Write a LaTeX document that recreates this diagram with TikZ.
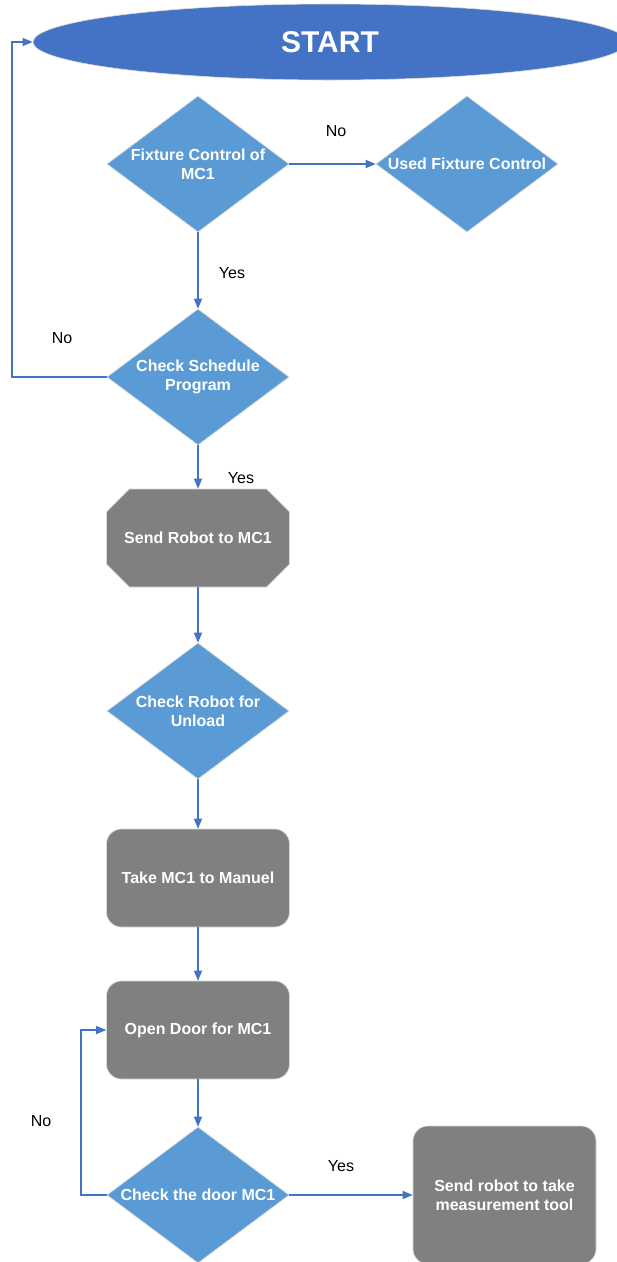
\documentclass[tikz,border=0pt]{standalone}
\usepackage{fontspec}
\setmainfont{Liberation Sans}
\usetikzlibrary{shapes.geometric,shapes.misc,arrows.meta}
\definecolor{startblue}{HTML}{4472C4}
\definecolor{diablue}{HTML}{5B9BD5}
\definecolor{boxgray}{HTML}{808080}
\definecolor{edgegray}{HTML}{D9D9D9}
\begin{document}
\begin{tikzpicture}[x=1pt,y=-1pt,
  txt/.style={text=white,font=\fontsize{16}{19}\selectfont\bfseries,align=center},
  dia/.style={diamond,fill=diablue,draw=edgegray,line width=0.6pt,inner sep=0pt,
    minimum width=182pt,minimum height=136pt},
  dlabel/.style={txt,inner sep=0pt},
  rbox/.style={rectangle,rounded corners=15pt,fill=boxgray,draw=edgegray,line width=0.6pt,
    minimum width=183pt,minimum height=98pt,txt},
  obox/.style={chamfered rectangle,chamfered rectangle xsep=17pt,chamfered rectangle ysep=17pt,
    fill=boxgray,draw=edgegray,line width=0.6pt,inner sep=0pt,
    minimum width=183pt,minimum height=98pt,txt},
  arr/.style={draw=startblue,line width=1.1pt,-{Triangle[length=10pt,width=8pt]}},
  ans/.style={font=\fontsize{16}{19}\selectfont,text=black,inner sep=0pt}]
\useasboundingbox (0,0) rectangle (617,1262);
\clip (0,0) rectangle (617,1262);
\fill[white] (0,0) rectangle (617,1262);

% start terminal
\node[ellipse,fill=startblue,draw=edgegray,line width=0.6pt,minimum width=594pt,minimum height=76pt,inner sep=0pt,
  text=white,font=\fontsize{30}{34}\selectfont\bfseries] (start) at (330,42) {START};

% decisions and steps
\node[dia,label={[dlabel]center:Fixture Control of\\MC1}] (d1) at (198,164) {};
\node[dia,label={[dlabel]center:Used Fixture Control}] (d2) at (467,164) {};
\node[dia,label={[dlabel]center:Check Schedule\\Program}] (d3) at (198,377) {};
\node[obox] (send) at (198,538) {Send Robot to MC1};
\node[dia,label={[dlabel]center:Check Robot for\\Unload}] (d4) at (198,711) {};
\node[rbox] (manual) at (198,878) {Take MC1 to Manuel};
\node[rbox] (door) at (198,1030) {Open Door for MC1};
\node[dia,label={[dlabel]center:Check the door MC1}] (d5) at (198,1195) {};
\node[rbox,minimum height=138pt] (tool) at (504.5,1195) {Send robot to take\\measurement tool};

% return lanes
\coordinate (laneA) at (12,0);
\coordinate (laneB) at (81,0);

% connectors
\draw[arr] (d1.east) -- (d2.west);
\draw[arr] (d1.south) -- (d3.north);
\draw[arr] (d3.west) -- (d3.west -| laneA) |- (start.west);
\draw[arr] (d3.south) -- (send.north);
\draw[arr] (send.south) -- (d4.north);
\draw[arr] (d4.south) -- (manual.north);
\draw[arr] (manual.south) -- (door.north);
\draw[arr] (door.south) -- (d5.north);
\draw[arr] (d5.west) -- (d5.west -| laneB) |- (door.west);
\draw[arr] (d5.east) -- (tool.west);

% branch answers
\node[ans] (n1) at (336,131) {No};
\node[ans] (y1) at (232,273) {Yes};
\node[ans] (n2) at (62,338) {No};
\node[ans] (y2) at (241,478) {Yes};
\node[ans] (n3) at (41,1121) {No};
\node[ans] (y3) at (341,1166) {Yes};
\end{tikzpicture}
\end{document}
